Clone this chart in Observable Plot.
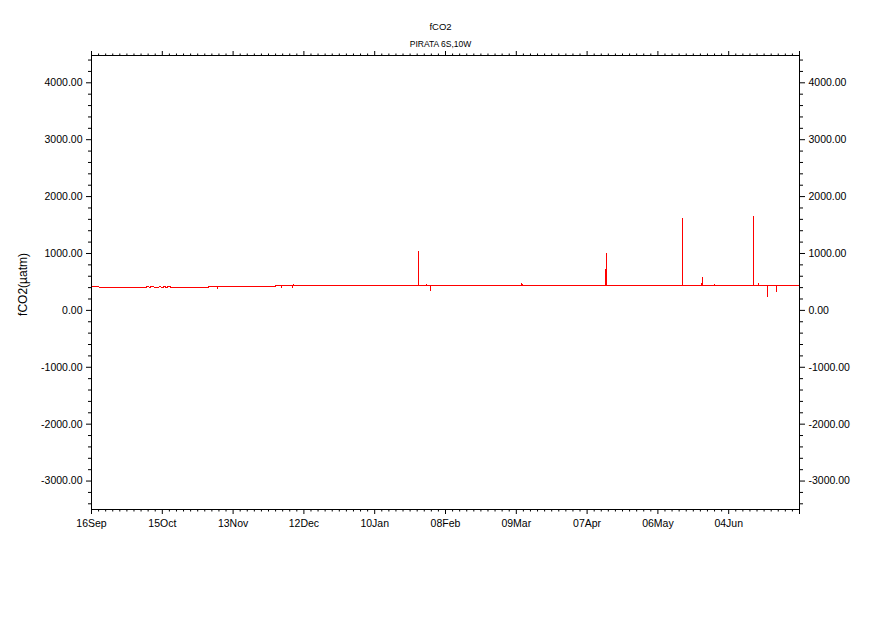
<!DOCTYPE html>
<html>
<head>
<meta charset="utf-8">
<script src="https://cdn.jsdelivr.net/npm/d3@7"></script>
<script src="https://cdn.jsdelivr.net/npm/@observablehq/plot@0.6"></script>
<style>
  html, body { margin: 0; padding: 0; background: #fff; }
  #chart svg { display: block; }
</style>
</head>
<body>
<div id="chart"></div>
<script>
// ---- data ----
const times = [
  "2009-09-16T00:00", "2009-09-16T06:00", "2009-09-19T00:00", "2009-09-19T03:00",
  "2009-10-08T14:00", "2009-10-08T16:00", "2009-10-09T12:00", "2009-10-09T14:00",
  "2009-10-10T04:00", "2009-10-10T06:00", "2009-10-11T14:00", "2009-10-11T16:00",
  "2009-10-13T14:00", "2009-10-13T16:00", "2009-10-14T10:00", "2009-10-14T12:00",
  "2009-10-15T08:00", "2009-10-15T10:00", "2009-10-16T10:00", "2009-10-16T12:00",
  "2009-10-17T00:00", "2009-10-17T02:00", "2009-10-18T10:00", "2009-10-18T12:00",
  "2009-11-03T00:00", "2009-11-03T02:00",
  "2009-11-06T11:40", "2009-11-06T12:00", "2009-11-06T12:20",
  "2009-11-30T08:00", "2009-11-30T10:00",
  "2009-12-02T21:40", "2009-12-02T22:00", "2009-12-02T22:20",
  "2009-12-07T09:40", "2009-12-07T10:00", "2009-12-07T10:20",
  "2009-12-07T21:40", "2009-12-07T22:00", "2009-12-07T22:20",
  "2010-01-27T19:40", "2010-01-27T20:00", "2010-01-27T20:20",
  "2010-01-31T01:40", "2010-01-31T02:00", "2010-01-31T02:20",
  "2010-02-01T19:40", "2010-02-01T20:00", "2010-02-01T20:20",
  "2010-03-11T07:40", "2010-03-11T08:00", "2010-03-11T08:20",
  "2010-04-14T16:40", "2010-04-14T17:00", "2010-04-14T17:20",
  "2010-04-15T01:40", "2010-04-15T02:00", "2010-04-15T02:20",
  "2010-05-16T05:40", "2010-05-16T06:00", "2010-05-16T06:20",
  "2010-05-24T01:40", "2010-05-24T02:00", "2010-05-24T02:20",
  "2010-05-29T01:40", "2010-05-29T02:00", "2010-05-29T02:20",
  "2010-06-14T05:40", "2010-06-14T06:00", "2010-06-14T06:20",
  "2010-06-16T05:40", "2010-06-16T06:00", "2010-06-16T06:20",
  "2010-06-19T21:40", "2010-06-19T22:00", "2010-06-19T22:20",
  "2010-06-23T13:40", "2010-06-23T14:00", "2010-06-23T14:20",
  "2010-07-03T00:00"
];
const fco2 = [
  490, 421, 421, 404,
  404, 421, 421, 404,
  404, 421, 421, 404,
  404, 421, 421, 404,
  404, 421, 421, 404,
  404, 421, 421, 404,
  404, 421,
  421, 390, 421,
  421, 439,
  439, 404, 439,
  439, 404, 439,
  439, 461, 439,
  439, 1035, 439,
  439, 461, 439,
  439, 356, 439,
  439, 474, 439,
  439, 720, 439,
  439, 1000, 439,
  439, 1614, 439,
  439, 579, 439,
  439, 456, 439,
  439, 1649, 439,
  439, 474, 439,
  439, 250, 439,
  439, 339, 439,
  439
];

// ---- axes ----
const xDomain = ["2009-09-16", "2010-07-03"];
const xTickDates = ["2009-09-16", "2009-10-15", "2009-11-13", "2009-12-12", "2010-01-10",
                    "2010-02-08", "2010-03-09", "2010-04-07", "2010-05-06", "2010-06-04", "2010-07-03"];
const xTickLabels = ["16Sep", "15Oct", "13Nov", "12Dec", "10Jan",
                     "08Feb", "09Mar", "07Apr", "06May", "04Jun", ""];
const yDomain = [-3500, 4480];
const yMajorTicks = [-3000, -2000, -1000, 0, 1000, 2000, 3000, 4000];
const yMinorStep = 200;

const titleText = "fCO2";
const subtitleText = "PIRATA 6S,10W";
const yLabelText = "fCO2(\u00b5atm)";

// ---- build ----
const parseT = s => new Date(s + (s.length > 10 ? ":00Z" : "T00:00:00Z"));
const data = times.map((t, i) => ({t: parseT(t), v: fco2[i]}));
const xMajor = xTickDates.map(parseT);
const labelOf = new Map(xMajor.map((d, i) => [+d, xTickLabels[i]]));
const xMinor = [];
for (let i = 0; i < xMajor.length - 1; i++) {
  const a = +xMajor[i], b = +xMajor[i + 1];
  for (let k = 1; k < 10; k++) xMinor.push(new Date(a + (b - a) * k / 10));
}
const yMinor = d3.range(-3400, 4480, yMinorStep).filter(v => v % 1000 !== 0);

const font = "'Liberation Sans', Arial, sans-serif";
const chart = Plot.plot({
  width: 891,
  height: 630,
  marginLeft: 91,
  marginRight: 92,
  marginTop: 55,
  marginBottom: 121,
  style: {fontFamily: font, fontSize: "10.5px", background: "#fff", color: "#000"},
  x: {type: "utc", domain: xDomain.map(parseT)},
  y: {domain: yDomain},
  marks: [
    Plot.line(data, {x: "t", y: "v", stroke: "#ff0000", strokeWidth: 1, shapeRendering: "crispEdges"}),
    Plot.frame({stroke: "#000", strokeWidth: 1}),
    Plot.axisY(yMajorTicks, {anchor: "left", tickSize: 5, tickPadding: 4, tickFormat: d => d.toFixed(2), label: null}),
    Plot.axisY(yMajorTicks, {anchor: "right", tickSize: 5, tickPadding: 4, tickFormat: d => d.toFixed(2), label: null}),
    Plot.axisY(yMinor, {anchor: "left", tickSize: 3, tickFormat: () => "", label: null}),
    Plot.axisY(yMinor, {anchor: "right", tickSize: 3, tickFormat: () => "", label: null}),
    Plot.axisX(xMajor, {anchor: "bottom", tickSize: 5, tickPadding: 5, tickFormat: d => labelOf.get(+d), label: null}),
    Plot.axisX(xMajor, {anchor: "top", tickSize: 5, tickFormat: () => "", label: null}),
    Plot.axisX(xMinor, {anchor: "bottom", tickSize: 2.5, tickFormat: () => "", label: null}),
    Plot.axisX(xMinor, {anchor: "top", tickSize: 2.5, tickFormat: () => "", label: null}),
    Plot.text([titleText], {frameAnchor: "top", dx: -5, dy: -32, fontSize: 9.5, text: d => d}),
    Plot.text([subtitleText], {frameAnchor: "top", dx: -5, dy: -15, fontSize: 8.5, text: d => d}),
    Plot.text([yLabelText], {frameAnchor: "left", dx: -68, dy: 2, rotate: -90, textAnchor: "middle", lineAnchor: "middle", fontSize: 12, text: d => d})
  ]
});
document.getElementById("chart").appendChild(chart);
</script>
</body>
</html>
